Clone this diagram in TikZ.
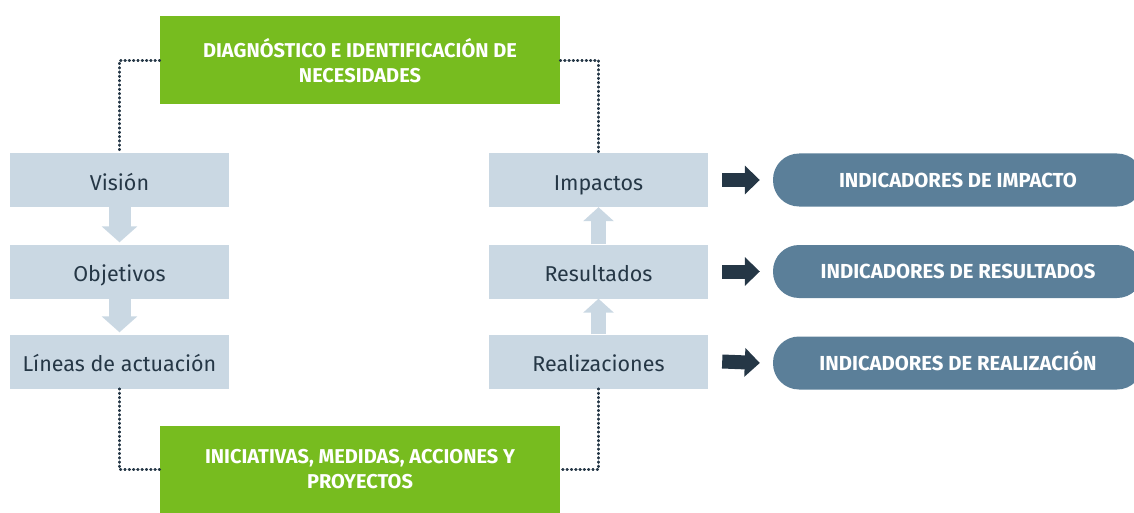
\documentclass[tikz,border=0pt]{standalone}
\usepackage{fontspec}
\setmainfont{Fira Sans}
\usetikzlibrary{arrows.meta,positioning,calc}
\definecolor{verde}{HTML}{77BC1F}
\definecolor{gris}{HTML}{CAD8E3}
\definecolor{azul}{HTML}{5B7F99}
\definecolor{oscuro}{HTML}{253746}

\begin{document}
\begin{tikzpicture}[x=1pt,y=-1pt,
    caja/.style={fill=gris, minimum width=219pt, minimum height=54pt, inner sep=0pt,
        text height=20pt, text depth=0pt, text=oscuro, font=\fontsize{21.5}{25}\selectfont},
    fase/.style={fill=verde, minimum width=400pt, minimum height=88pt, inner sep=0pt,
        text=white, align=center, font=\bfseries\fontsize{20}{25}\selectfont},
    indicador/.style={fill=azul, rounded corners=26pt, minimum width=370pt, minimum height=53pt,
        inner sep=0pt, text height=14pt, text depth=0pt, text=white,
        font=\bfseries\fontsize{20.3}{22}\selectfont},
    puntos/.style={draw=oscuro, line width=2.8pt, dash pattern=on 0.6pt off 3.7pt, line cap=round},
    bajada/.style={draw=gris, line width=22pt, -{Triangle[width=35pt,length=16pt]}},
    subida/.style={draw=gris, line width=15pt, -{Triangle[width=30pt,length=14pt]}},
    flecha/.style={draw=oscuro, line width=14pt, -{Triangle[width=28pt,length=15pt]}}]
    \useasboundingbox (0,0) rectangle (1134,513);

    % Phases (green)
    \node[fase] (diag) at (360,60.5) {DIAGNÓSTICO E IDENTIFICACIÓN DE\\NECESIDADES};
    \node[fase] (inic) at (360,469.5) {INICIATIVAS, MEDIDAS, ACCIONES Y\\PROYECTOS};

    % Planning column
    \node[caja] (vision) at (119.5,180) {Visión};
    \node[caja] (objetivos) at (119.5,271.5) {Objetivos};
    \node[caja] (lineas) at (119.5,361.5) {Líneas de actuación};

    % Evaluation column
    \node[caja] (impactos) at (598.5,180) {Impactos};
    \node[caja] (resultados) at (598.5,271.5) {Resultados};
    \node[caja] (realiz) at (598.5,361.5) {Realizaciones};

    % Indicators
    \node[indicador] (indimp) at (958,180) {INDICADORES DE IMPACTO};
    \node[indicador] (indres) at (958,271.5) {INDICADORES DE RESULTADOS};
    \node[indicador] (indrea) at (958,363) {INDICADORES DE REALIZACIÓN};

    % Block arrows
    \draw[bajada] (vision.south) -- ([yshift=2pt]objetivos.north);
    \draw[bajada] (objetivos.south) -- ([yshift=2pt]lineas.north);
    \draw[subida] (realiz.north) -- (resultados.south);
    \draw[subida] (resultados.north) -- (impactos.south);
    \draw[flecha] ([xshift=14pt]impactos.east) -- ([xshift=-13pt]indimp.west);
    \draw[flecha] ([xshift=14pt]resultados.east) -- ([xshift=-13pt]indres.west);
    \draw[flecha] ([xshift=14pt]realiz.east) -- ([xshift=-13pt]indrea.west);

    % Dotted cycle
    \draw[puntos] (diag.west) -| (vision.north);
    \draw[puntos] (diag.east) -| (impactos.north);
    \draw[puntos] (lineas.south) |- (inic.west);
    \draw[puntos] (realiz.south) |- (inic.east);
\end{tikzpicture}
\end{document}
